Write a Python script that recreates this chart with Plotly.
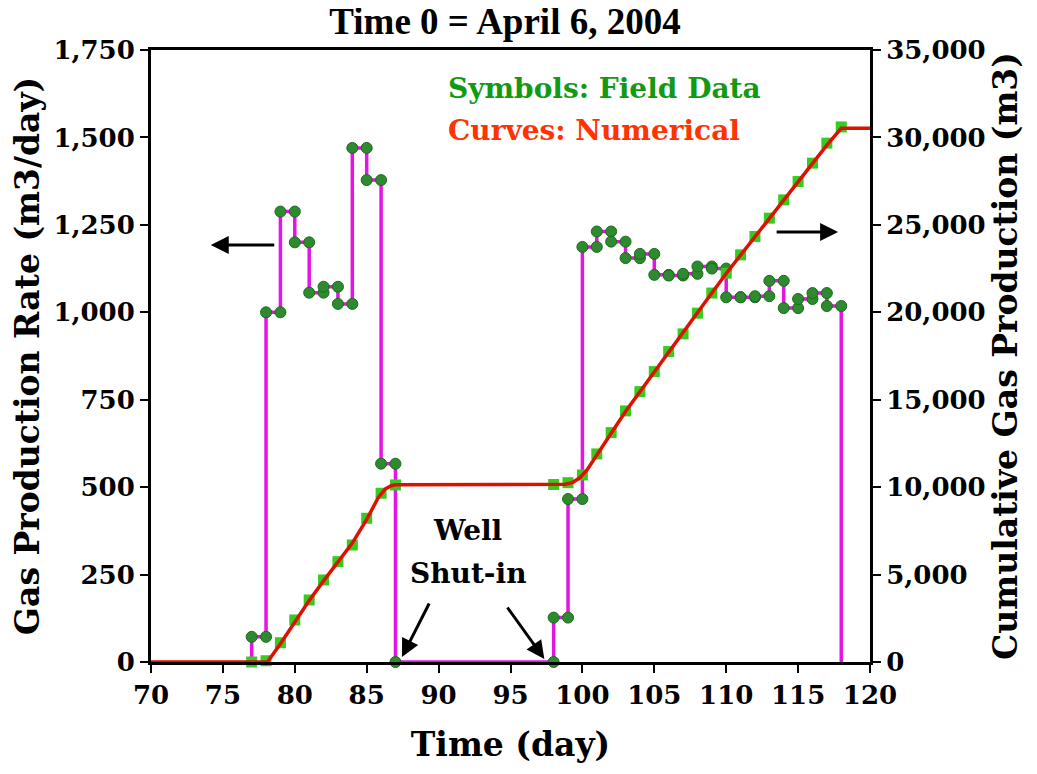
import plotly.graph_objects as go

# ---------------- data ----------------
# Field gas production rate (m3/day): level held from day d to day d+1
rate_days = [77, 78, 79, 80, 81, 82, 83, 84, 85, 86, 87,
             98, 99, 100, 101, 102, 103, 104, 105, 106, 107, 108, 109,
             110, 111, 112, 113, 114, 115, 116, 117, 118]
rate_vals = [72, 1000, 1288, 1200, 1056, 1073, 1024, 1470, 1378, 567, 0,
             127, 466, 1187, 1231, 1202, 1155, 1167, 1107, 1105, 1110, 1131, 1125,
             1043, 1043, 1046, 1090, 1012, 1038, 1055, 1018, 0]

# Field cumulative gas production (m3)
cum_days = [77, 78, 79, 80, 81, 82, 83, 84, 85, 86, 87,
            98, 99, 100, 101, 102, 103, 104, 105, 106, 107, 108, 109,
            110, 111, 112, 113, 114, 115, 116, 117, 118]
cum_vals = [0, 72, 1104, 2403, 3547, 4691, 5738, 6693, 8220, 9651, 10126,
            10150, 10257, 10698, 11899, 13118, 14359, 15463, 16608, 17752, 18764, 19950, 21100,
            22236, 23284, 24332, 25383, 26430, 27477, 28530, 29674, 30600]

# Numerical (simulated) cumulative curve
num_days = [70, 78.1, 79, 80, 81, 82, 83, 84, 85, 85.8, 86.3, 86.7, 87,
            98, 98.8, 99.3, 99.8, 100.3, 101, 102, 103, 104, 105, 106, 107, 108, 109,
            110, 111, 112, 113, 114, 115, 116, 117, 118, 120]
num_vals = [0, 0, 1050, 2330, 3520, 4640, 5730, 6800, 8150, 9400, 9900, 10080, 10130,
            10130, 10170, 10260, 10520, 10960, 11800, 13080, 14330, 15470, 16620, 17740, 18850, 19980, 21100,
            22220, 23270, 24320, 25370, 26440, 27460, 28510, 29560, 30520, 30520]

x_ticks = [70, 75, 80, 85, 90, 95, 100, 105, 110, 115, 120]
rate_ticks = [0, 250, 500, 750, 1000, 1250, 1500, 1750]
cum_ticks = [0, 5000, 10000, 15000, 20000, 25000, 30000, 35000]

# ---------------- build marker sets from the step data ----------------
mk_x, mk_y = [], []
for i, (d, v) in enumerate(zip(rate_days, rate_vals)):
    if v > 0:
        mk_x += [d, d + 1]
        mk_y += [v, v]
    elif d == 87:
        mk_x.append(d); mk_y.append(0)
mk_x.append(98); mk_y.append(0)

SERIF = "DejaVu Serif"
BLACK = "black"

# page body has an 8px margin: figure is placed at (8, 8)
OFF = 8
W, H = 1037 - OFF, 774 - OFF
PL, PR, PT, PB = 148, 870, 50, 662          # plot box in window pixels
PW, PH = PR - PL, PB - PT


def px(xw):
    return (xw - PL) / PW


def py(yw):
    return (PB - yw) / PH


fig = go.Figure()

# rate step line
fig.add_trace(go.Scatter(
    x=[rate_days[0]] + rate_days, y=[0] + rate_vals,
    mode="lines", line=dict(color="#e414e4", width=3.5, shape="hv"),
    yaxis="y", showlegend=False, hoverinfo="skip", cliponaxis=False))
# rate markers
fig.add_trace(go.Scatter(
    x=mk_x, y=mk_y, mode="markers",
    marker=dict(symbol="circle", size=11, color="#2e8a2e",
                line=dict(color="#1d6a1d", width=1)),
    yaxis="y", showlegend=False, cliponaxis=False))
# cumulative markers
fig.add_trace(go.Scatter(
    x=cum_days, y=cum_vals, mode="markers",
    marker=dict(symbol="square", size=11, color="#33cc1f", line=dict(width=0)),
    yaxis="y2", showlegend=False, cliponaxis=False))
# numerical curve
fig.add_trace(go.Scatter(
    x=num_days, y=num_vals, mode="lines",
    line=dict(color="#dd1100", width=3.5),
    yaxis="y2", showlegend=False, cliponaxis=False))

tickfont = dict(family=SERIF, size=26, color=BLACK, weight="bold")
titlefont = dict(family=SERIF, size=33, color=BLACK, weight="bold")

fig.update_layout(
    width=W, height=H,
    margin=dict(l=PL - OFF, r=W - (PR - OFF), t=PT - OFF, b=H - (PB - OFF)),
    paper_bgcolor="white", plot_bgcolor="white",
    title=dict(text="<b>Time 0 = April 6, 2004</b>",
               font=dict(family="Liberation Serif", size=37, color=BLACK),
               x=(505 - OFF) / W, xanchor="center",
               y=1, yanchor="top", yref="container", pad=dict(t=0)),
    xaxis=dict(range=[70, 120], tickvals=x_ticks, ticks="outside", ticklen=8,
               tickwidth=2, tickcolor=BLACK, showline=True, linewidth=3,
               linecolor=BLACK, mirror=True, showgrid=False, zeroline=False,
               tickfont=tickfont,
               title=dict(text="Time (day)", font=titlefont, standoff=24)),
    yaxis=dict(range=[0, 1750], tickvals=rate_ticks, tickformat=",",
               ticks="outside", ticklen=8, tickwidth=2, tickcolor=BLACK,
               showline=True, linewidth=3, linecolor=BLACK, showgrid=False,
               zeroline=False, tickfont=tickfont,
               title=dict(text="Gas Production Rate (m3/day)", font=titlefont, standoff=10)),
    yaxis2=dict(range=[0, 35000], tickvals=cum_ticks, tickformat=",",
                overlaying="y", side="right",
                ticks="outside", ticklen=8, tickwidth=2, tickcolor=BLACK,
                showline=True, linewidth=3, linecolor=BLACK, showgrid=False,
                zeroline=False, tickfont=tickfont,
                title=dict(text="Cumulative Gas Production (m3)", font=titlefont, standoff=10)),
)

anno_font = dict(family=SERIF, size=28, weight="bold")
fig.add_annotation(xref="paper", yref="paper", x=px(444), y=py(88),
                   xanchor="left", yanchor="middle", showarrow=False,
                   text="Symbols: Field Data", font=dict(anno_font, color="#129a12"))
fig.add_annotation(xref="paper", yref="paper", x=px(444), y=py(131),
                   xanchor="left", yanchor="middle", showarrow=False,
                   text="Curves: Numerical", font=dict(anno_font, color="#ff3300"))
fig.add_annotation(xref="paper", yref="paper", x=px(466), y=py(530),
                   xanchor="center", yanchor="middle", showarrow=False,
                   text="Well", font=dict(anno_font, color=BLACK))
fig.add_annotation(xref="paper", yref="paper", x=px(466), y=py(573),
                   xanchor="center", yanchor="middle", showarrow=False,
                   text="Shut-in", font=dict(anno_font, color=BLACK))

arrow = dict(showarrow=True, arrowhead=2, arrowsize=1.2, arrowwidth=3,
             arrowcolor=BLACK, text="", xref="paper", yref="paper")
# pointing to left axis
fig.add_annotation(x=px(208), y=py(245), ax=65, ay=0, **arrow)
# pointing to right axis
fig.add_annotation(x=px(838), y=py(232), ax=-63, ay=0, **arrow)
# shut-in arrows
fig.add_annotation(x=px(400), y=py(657), ax=28, ay=-55, **arrow)
fig.add_annotation(x=px(543), y=py(659), ax=-38, ay=-53, **arrow)

fig.write_html("out.html")
